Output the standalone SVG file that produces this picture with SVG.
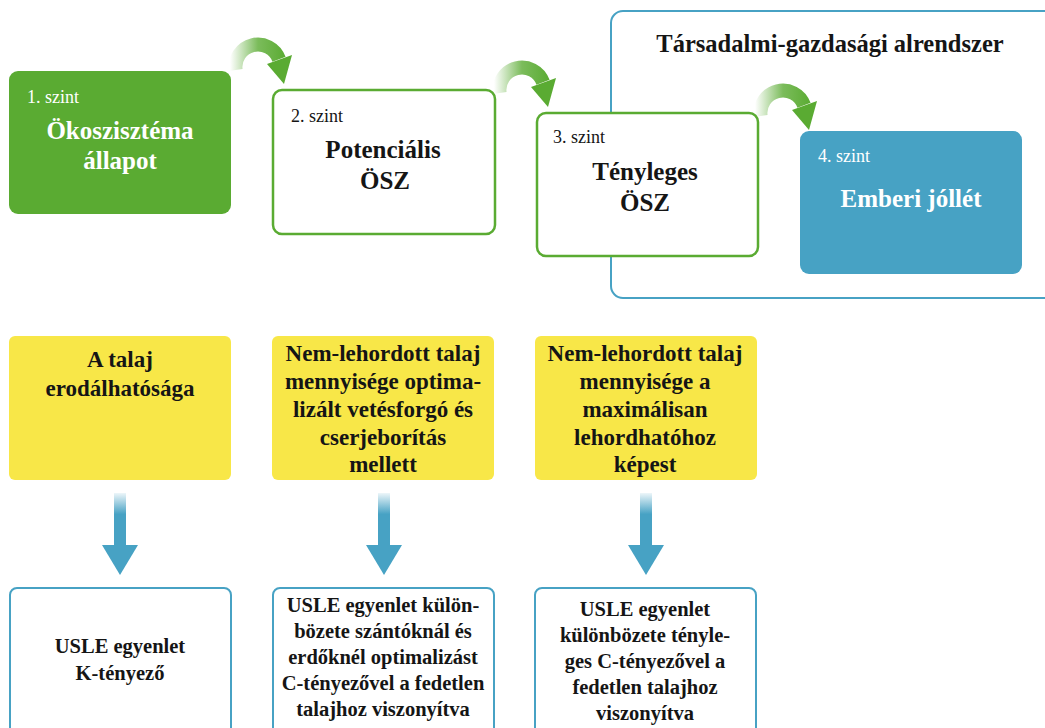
<svg xmlns="http://www.w3.org/2000/svg" width="1045" height="728" viewBox="0 0 1045 728">
<style>
.t{font-family:"Liberation Serif","DejaVu Serif",serif;}
.lvl{font-size:18px;}
.big{font-size:25px;font-weight:bold;text-anchor:middle;}
.y{font-size:23px;font-weight:bold;text-anchor:middle;fill:#151515;}
.b{font-size:20.5px;font-weight:bold;text-anchor:middle;fill:#151515;}
.gbox{fill:#fff;stroke:#5aab32;stroke-width:2.5;}
.ybox{fill:#f8e748;}
.bbox{fill:#fff;stroke:#47a2c4;stroke-width:2;}
</style>
<defs>
<linearGradient id="cg" gradientUnits="userSpaceOnUse" x1="230" y1="0" x2="286" y2="0">
<stop offset="0" stop-color="#5aab32" stop-opacity="0"/>
<stop offset="0.5" stop-color="#5aab32" stop-opacity="0.8"/>
<stop offset="1" stop-color="#5aab32"/>
</linearGradient>
<linearGradient id="dg" x1="0" y1="0" x2="0" y2="1">
<stop offset="0" stop-color="#47a2c4" stop-opacity="0.1"/>
<stop offset="0.4" stop-color="#47a2c4"/>
<stop offset="1" stop-color="#47a2c4"/>
</linearGradient>
<g id="curv">
<path d="M235.6,70 A22.5,22.5 0 0 1 279,59.2" fill="none" stroke="url(#cg)" stroke-width="14"/>
<polygon points="267,64 292,55 284,84" fill="#5aab32"/>
</g>
<g id="down">
<rect x="-6" y="0" width="12" height="53" fill="url(#dg)"/>
<polygon points="-18,52 18,52 0,82" fill="#47a2c4"/>
</g>
</defs>

<g id="subsystem">
<rect x="611" y="11" width="460" height="287" rx="12" fill="none" stroke="#47a2c4" stroke-width="2"/>
<text class="t" x="830" y="52" style="font-size:24.5px;font-weight:bold;text-anchor:middle" fill="#151515">Társadalmi-gazdasági alrendszer</text>
</g>

<g id="connectors">
<use href="#curv"/>
<use href="#curv" transform="translate(264,23)"/>
<use href="#curv" transform="translate(525,46)"/>
<use href="#down" transform="translate(120,493)"/>
<use href="#down" transform="translate(384,493)"/>
<use href="#down" transform="translate(646,493)"/>
</g>

<g id="level1">
<rect x="9" y="71" width="222" height="143" rx="9" fill="#5aab32"/>
<text class="t lvl" x="27" y="103" fill="#fff">1. szint</text>
<text class="t big" x="120" y="139" fill="#fff">Ökoszisztéma</text>
<text class="t big" x="120" y="169" fill="#fff">állapot</text>
</g>

<g id="level2">
<rect class="gbox" x="273" y="90" width="222" height="144" rx="9"/>
<text class="t lvl" x="291" y="122" fill="#151515">2. szint</text>
<text class="t big" x="383" y="158" fill="#151515">Potenciális</text>
<text class="t big" x="385" y="189" fill="#151515">ÖSZ</text>
</g>

<g id="level3">
<rect class="gbox" x="537" y="113" width="221" height="143" rx="9"/>
<text class="t lvl" x="553" y="143" fill="#151515">3. szint</text>
<text class="t big" x="645" y="180" fill="#151515">Tényleges</text>
<text class="t big" x="645" y="211" fill="#151515">ÖSZ</text>
</g>

<g id="level4">
<rect x="800" y="131" width="222" height="143" rx="9" fill="#47a2c4"/>
<text class="t lvl" x="818" y="162" fill="#fff">4. szint</text>
<text class="t big" x="911" y="207" fill="#fff">Emberi jóllét</text>
</g>

<g id="y1">
<rect class="ybox" x="9" y="336" width="222" height="144" rx="6"/>
<text class="t y" x="120" y="367">A talaj</text>
<text class="t y" x="120" y="396">erodálhatósága</text>
</g>

<g id="y2">
<rect class="ybox" x="272" y="336" width="222" height="144" rx="6"/>
<text class="t y" x="383" y="361">Nem-lehordott talaj</text>
<text class="t y" x="383" y="389">mennyisége optima-</text>
<text class="t y" x="383" y="417">lizált vetésforgó és</text>
<text class="t y" x="383" y="445">cserjeborítás</text>
<text class="t y" x="383" y="472">mellett</text>
</g>

<g id="y3">
<rect class="ybox" x="535" y="336" width="222" height="144" rx="6"/>
<text class="t y" x="645" y="361">Nem-lehordott talaj</text>
<text class="t y" x="645" y="389">mennyisége a</text>
<text class="t y" x="645" y="417">maximálisan</text>
<text class="t y" x="645" y="445">lehordhatóhoz</text>
<text class="t y" x="645" y="472">képest</text>
</g>

<g id="b1">
<rect class="bbox" x="10" y="588" width="221" height="160" rx="7"/>
<text class="t b" x="120" y="653">USLE egyenlet</text>
<text class="t b" x="120" y="680">K-tényező</text>
</g>

<g id="b2">
<rect class="bbox" x="273" y="588" width="221" height="160" rx="7"/>
<text class="t b" x="383" y="612">USLE egyenlet külön-</text>
<text class="t b" x="383" y="638">bözete szántóknál és</text>
<text class="t b" x="383" y="664">erdőknél optimalizást</text>
<text class="t b" x="383" y="690">C-tényezővel a fedetlen</text>
<text class="t b" x="383" y="716">talajhoz viszonyítva</text>
</g>

<g id="b3">
<rect class="bbox" x="535" y="588" width="221" height="160" rx="7"/>
<text class="t b" x="645" y="616">USLE egyenlet</text>
<text class="t b" x="645" y="642">különbözete tényle-</text>
<text class="t b" x="645" y="668">ges C-tényezővel a</text>
<text class="t b" x="645" y="694">fedetlen talajhoz</text>
<text class="t b" x="645" y="720">viszonyítva</text>
</g>
</svg>
